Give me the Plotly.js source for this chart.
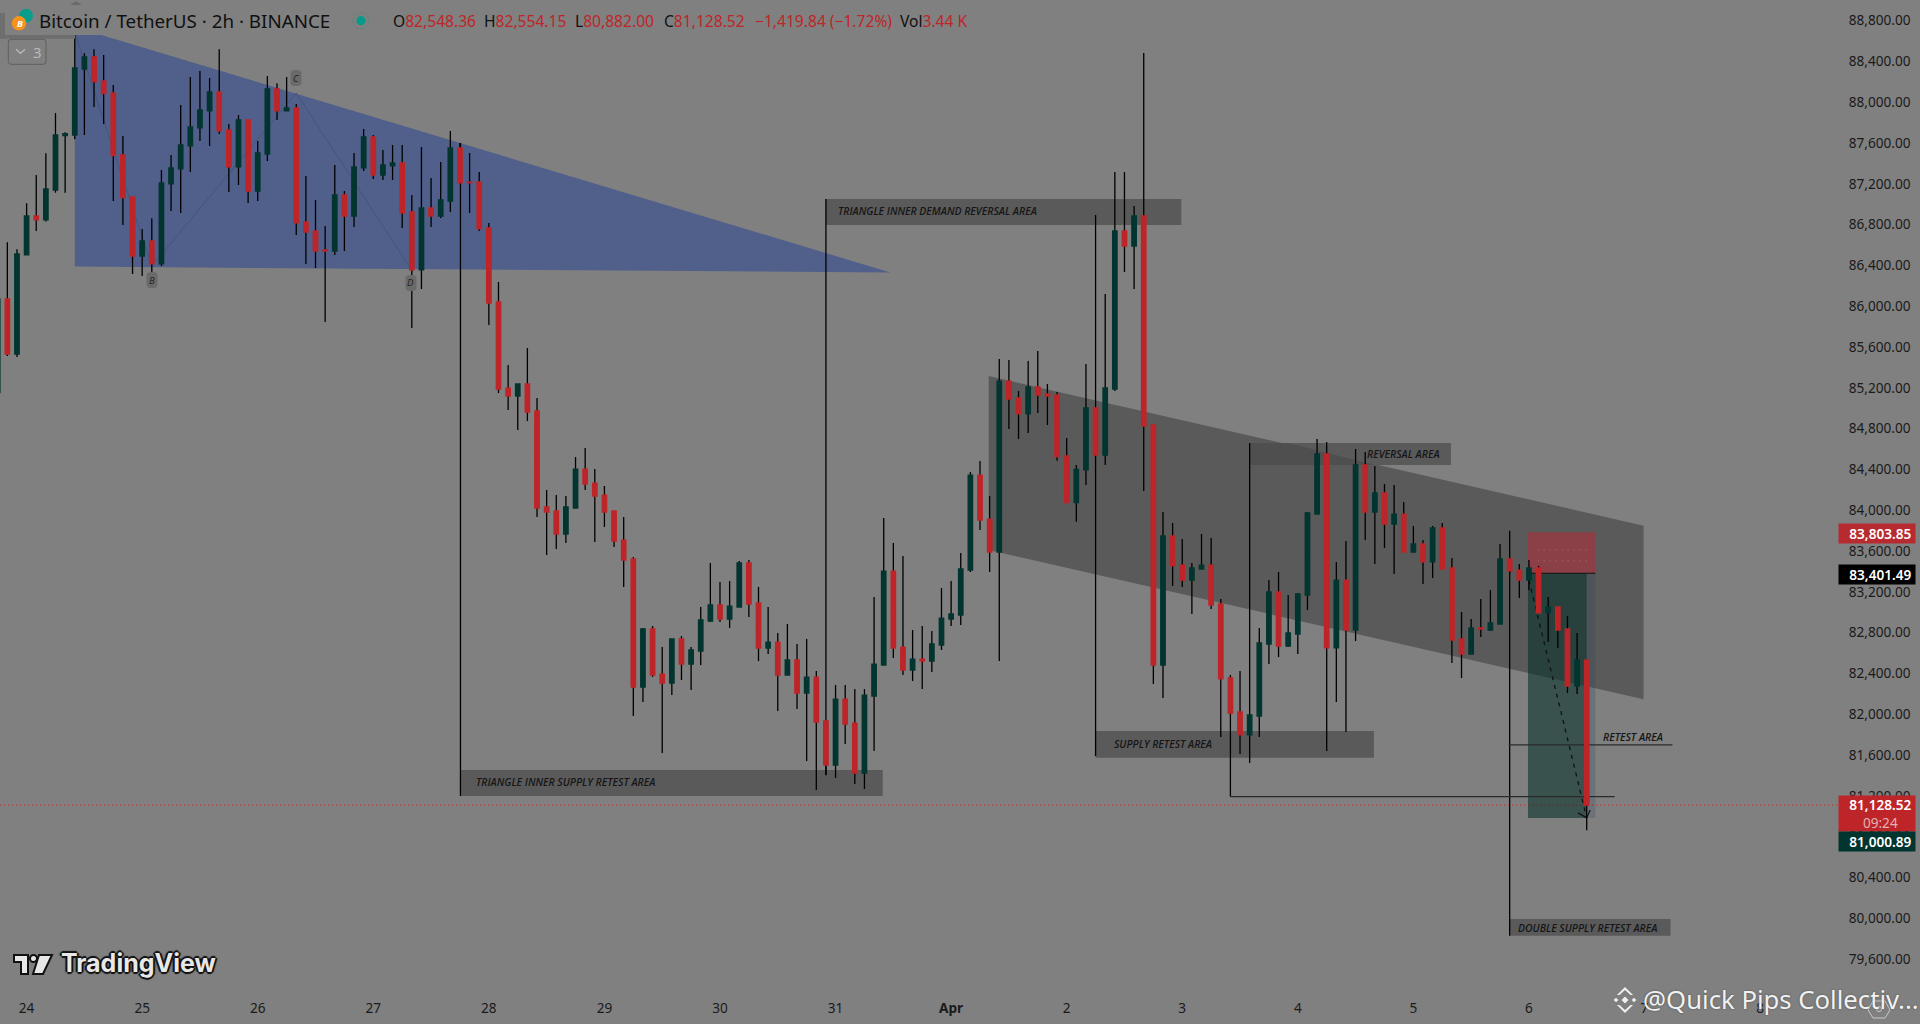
<!DOCTYPE html>
<html><head><meta charset="utf-8">
<script src="https://cdn.plot.ly/plotly-3.0.1.min.js"></script>
<style>html,body{margin:0;padding:0;background:#808080;overflow:hidden}#c{width:1920px;height:1024px}</style>
</head><body><div id="c"></div>
<script>
// ---- candle values, one per 2h bar, first bar 2025-03-23 18:00 UTC
const firstBar = Date.UTC(2025,2,23,18,0,0);
const barOpen = [85172,86091,85551,86522,86904,86865,87159,87692,87698,88345,88463,88228,88110,87502,87091,86512,86659,86434,87218,87365,87591,87767,87934,88120,87747,87385,87846,87149,87512,88149,87934,87963,86846,86757,86571,86561,87110,86904,87375,87679,87306,87395,87424,86944,86375,86983,86904,87051,87571,87238,87238,86787,86061,85217,85139,85257,84992,84051,84012,83786,84041,84423,84286,84168,84012,83727,83541,82286,82855,82413,82325,82757,82511,82639,82933,83090,82953,83070,83502,83110,82668,82727,82404,82551,82227,82384,81953,81521,82168,81933,81443,82198,82502,83423,82678,82453,82560,82541,82698,82953,82992,83433,84364,83933,83610,85286,85120,84963,85228,85159,85149,84551,84094,84414,85022,84561,85208,86757,86610,86904,84855,82502,83767,83482,83335,83443,83482,83100,82375,82041,81816,82002,82708,83218,82688,82806,83188,83982,84571,82669,83335,82845,84463,84002,84188,83884,83982,83610,83688,83512,83845,83453,82757,82610,82865,82845,82904,83541,83433,83335,83453,83012,83071,82855,82296,82548.36];
const barHigh = [86150,86646,86578,87029,87306,87519,87914,87725,88700,88499,88538,88483,88189,87689,87091,86777,86881,87355,87502,87993,88267,88326,88257,88538,87806,87895,87846,87640,88277,88205,88267,88002,87296,87061,86806,87404,87149,87522,87757,87698,87551,87600,87600,87110,87581,87277,87434,87738,87620,87522,87336,86836,86257,85443,85257,85610,85119,84217,84168,84159,84541,84629,84423,84257,84012,83953,83560,82864,82884,82678,82757,82786,82678,83070,83502,83315,83325,83521,83531,83266,83070,82815,82904,82708,82757,82443,81953,82306,82306,82266,82266,83168,83943,83698,83570,82845,82884,82835,83257,83325,83600,84394,84502,84158,85502,85492,85188,85482,85580,85257,85178,84727,84463,85453,85022,86139,87335,87335,87002,88502,84855,84002,83894,83737,83502,83786,83747,83149,82404,82443,82012,82865,83335,83414,83188,83208,84002,84718,84688,83512,83718,84620,84590,84453,84277,84267,84100,83865,83728,83865,83894,83551,83022,82953,83149,83237,83688,83541,83492,83532,83473,83169,83071,82983,82816,82554.15];
const barLow = [85172,85531,85521,86522,86757,86849,87133,87133,87656,87698,87973,87806,87051,86816,86336,86316,86326,86414,86953,86934,87336,87640,87591,87708,87140,87208,87032,87051,87444,87846,87934,86718,86434,86394,85865,86522,86561,86796,87345,87267,87257,87257,86787,85806,86189,86796,86885,86944,87228,86934,86757,85836,85168,85002,84806,84894,83953,83580,83639,83698,84041,84217,83708,83855,83659,83266,82002,82139,82384,81639,82207,82354,82257,82502,82923,82923,82864,83070,82972,82541,82609,82051,82404,82070,81560,81276,81423,81394,81727,81335,81286,81658,82502,82570,82404,82345,82266,82433,82649,82884,82894,83413,83825,83413,82541,84816,84718,84776,84973,84855,84505,84094,83907,84267,84561,84463,85188,86355,86188,84208,82316,82178,83277,83267,83002,83443,83051,81796,81212,81629,81816,81796,82512,82580,82679,82610,83041,83982,81659,82139,81845,82737,83728,83492,83649,83394,83610,83610,83296,83355,83443,82522,82375,82610,82776,82835,82904,83400,83159,83238,83012,82728,82669,82228,82218,80882];
const barClose = [86091,85551,86532,86904,86865,87169,87698,87712,88355,88463,88221,88104,87496,87084,86512,86659,86434,87228,87375,87600,87777,87944,88120,87738,87385,87846,87149,87522,88149,87934,87963,86836,86747,86561,86561,87110,86904,87385,87679,87306,87404,87424,86934,86375,86983,86904,87061,87571,87228,87228,86777,86051,85208,85139,85257,84982,84041,84002,83786,84051,84423,84276,84159,84002,83717,83531,82286,82855,82404,82325,82757,82511,82649,82943,83090,82953,83080,83502,83100,82668,82727,82404,82551,82227,82384,81943,81521,82168,81923,81443,82207,82511,83423,82668,82453,82560,82541,82708,82962,83002,83443,84364,83923,83610,85286,85110,84963,85228,85149,85139,84544,84094,84420,85022,84561,85218,86757,86610,86904,84845,82502,83767,83473,83335,83453,83482,83090,82365,82031,81816,82012,82718,83218,82688,82816,83198,83992,84571,82669,83335,82845,84463,84002,84188,83884,83982,83610,83688,83512,83845,83443,82747,82610,82865,82855,82914,83541,83424,83335,83453,83012,83071,82845,82296,82551,81128.52];

// ---- axes
const priceTicks = [79600,80000,80400,80800,81200,81600,82000,82400,82800,83200,83600,84000,84400,84800,85200,85600,86000,86400,86800,87200,87600,88000,88400,88800];
const dayTicks = ['2025-03-24','2025-03-25','2025-03-26','2025-03-27','2025-03-28','2025-03-29','2025-03-30','2025-03-31','2025-04-01','2025-04-02','2025-04-03','2025-04-04','2025-04-05','2025-04-06','2025-04-07','2025-04-08'];
const dayLabels = ['24','25','26','27','28','29','30','31','<b>Apr</b>','2','3','4','5','6','7','8'];

// ---- drawing tool anchors: bar number (0 = 2025-03-23 20:00) and price
const triangleBars = [7,7,91.7];
const trianglePrices = [88757,86408,86350];
const zigzagBars = [7,15,30,41.8];
const zigzagPrices = [88700,86414,88110,86400];
const channelBars = [101.9,169.9,169.9,101.9];
const channelPrices = [85335,83868,82166,83629];
const overlapBars = [129,133,142,129];
const overlapPrices = [84678,84678,84463,84463];
const zoneBarStart = [85,47.05,113,129,156];
const zoneBarEnd = [121.9,90.9,141.9,149.9,172.7];
const zoneTop = [87071,81473,81855,84678,80012];
const zoneBottom = [86816,81218,81593,84463,79848];
const stemBars = [85,47.05,113,129,156];
const stemTop = [87071,87620,86914,84678,83817];
const stemBottom = [81420,81218,81610,81540,79848];
const labelText = ['TRIANGLE INNER DEMAND REVERSAL AREA','TRIANGLE INNER SUPPLY RETEST AREA','SUPPLY RETEST AREA','REVERSAL AREA','RETEST AREA','DOUBLE SUPPLY RETEST AREA'];
const labelBars = [86.2,48.6,114.8,141.1,165.6,156.8];
const labelPrices = [86950,81352,81727,84574,81799,79926];
const pointText = ['B','C','D'];
const pointBars = [15,30,41.9];
const pointPrices = [86271,88256,86250];
const hLineBars = [[155.9,172.9],[127,166.9]];
const hLinePrices = [81718,81211];
const shortBarStart = 157.9, shortBarMid = 164, shortBarEnd = 164.9;
const stopPrice = 83803.85, entryPrice = 83401.49, targetPrice = 81000.89, lastPrice = 81128.52;
const arrowBars = [158,164]; const arrowPrices = [83335,81003];
const headerStats = [['O','82,548.36',392],['H','82,554.15',483.4],['L','80,882.00',574],['C','81,128.52',663]];

// ---- colours
const BG='#808080', RED='#BE2528', GREEN='#02352F', ZONE='#5A5A5A', INK='#161616';

// ---- helpers
const W=1920,H=1024,PW=1840,PH=995;
const yTop=89021.6,yBottom=79266.6;
const ms=k=>firstBar+(k+1)*7200000;
const dt=k=>new Date(ms(k)).toISOString().replace('T',' ').replace('Z','');
const dtp=k=>new Date(ms(k)).toISOString().replace('T','_').replace('Z','');
const times=barOpen.map((_,i)=>dt(i-1));
const px=x=>x/PW, py=y=>1-y/PH;
const P=(x,y)=>px(x)+','+py(y);
function poly(bars,prices,fill,line){return {type:'path',layer:'below',xref:'x',yref:'y',
  path:bars.map((b,i)=>(i?'L':'M')+dtp(b)+','+prices[i]).join(' ')+' Z',fillcolor:fill,line:line||{width:0}};}
function rect(b0,b1,p0,p1,fill){return {type:'rect',layer:'below',xref:'x',yref:'y',x0:dt(b0),x1:dt(b1),y0:p0,y1:p1,fillcolor:fill,line:{width:0}};}
function seg(b0,p0,b1,p1,color,width,dash){return {type:'line',layer:'below',xref:'x',yref:'y',x0:dt(b0),x1:dt(b1),y0:p0,y1:p1,line:{color:color,width:width,dash:dash||'solid'}};}
function pixPath(pts,fill,lineColor,lw){return {type:'path',layer:'above',xref:'paper',yref:'paper',
  path:pts.map((p,i)=>(i?'L':'M')+P(p[0],p[1])).join(' ')+' Z',fillcolor:fill,line:{color:lineColor||fill,width:lw===undefined?0:lw}};}
function pixCircle(cx,cy,r,fill,lineColor,lw,dash){return {type:'circle',layer:'above',xref:'paper',yref:'paper',x0:px(cx-r),x1:px(cx+r),y0:py(cy+r),y1:py(cy-r),fillcolor:fill,line:{color:lineColor||fill,width:lw||0,dash:dash||'solid'}};}
function pixRect(x0,y0,x1,y1,fill){return {type:'rect',layer:'above',xref:'paper',yref:'paper',x0:px(x0),x1:px(x1),y0:py(y1),y1:py(y0),fillcolor:fill,line:{width:0}};}
function pill(x0,y0,x1,y1,r,fill,lineColor,lw){
  const d='M'+P(x0+r,y0)+' L'+P(x1-r,y0)+' Q'+P(x1,y0)+' '+P(x1,y0+r)+' L'+P(x1,y1-r)+' Q'+P(x1,y1)+' '+P(x1-r,y1)+' L'+P(x0+r,y1)+' Q'+P(x0,y1)+' '+P(x0,y1-r)+' L'+P(x0,y0+r)+' Q'+P(x0,y0)+' '+P(x0+r,y0)+' Z';
  return {type:'path',layer:'above',xref:'paper',yref:'paper',path:d,fillcolor:fill,line:{color:lineColor||fill,width:lw||0}};}

const shapes=[];
shapes.push(poly(triangleBars,trianglePrices,'#51608A'));
for(let i=0;i<zigzagBars.length-1;i++) shapes.push(seg(zigzagBars[i],zigzagPrices[i],zigzagBars[i+1],zigzagPrices[i+1],'#46547C',1));
shapes.push(poly(channelBars,channelPrices,ZONE));
zoneBarStart.forEach((b,i)=>shapes.push(rect(b,zoneBarEnd[i],zoneBottom[i],zoneTop[i],ZONE)));
shapes.push(poly(overlapBars,overlapPrices,'#4F4F4F'));
shapes.push(rect(shortBarStart,shortBarEnd,entryPrice,stopPrice,'#8A4046'));
shapes.push(rect(shortBarStart,shortBarMid,targetPrice,entryPrice,'rgba(5,49,40,0.58)'));
shapes.push(rect(shortBarMid,shortBarEnd,targetPrice,entryPrice,'rgba(30,60,90,0.2)'));
shapes.push(seg(shortBarStart,entryPrice,shortBarEnd,entryPrice,'#111',1.2));
shapes.push(seg(158.9,83629,164.3,83629,'rgba(230,170,170,0.45)',1,'1px,5px'));
shapes.push(seg(158.9,83522,164.3,83522,'rgba(230,170,170,0.45)',1,'1px,5px'));
stemBars.forEach((b,i)=>shapes.push(seg(b,stemTop[i],b,stemBottom[i],'#000',1.3)));
hLineBars.forEach((b,i)=>shapes.push(seg(b[0],hLinePrices[i],b[1],hLinePrices[i],'#2a2a2a',1.2)));
shapes.push(seg(arrowBars[0],arrowPrices[0],arrowBars[1],arrowPrices[1],'#111',1.3,'4px,5px'));
shapes.push(seg(163.1,81052,164,81003,'#111',1.2));
shapes.push(seg(164.35,81081,164,81003,'#111',1.2));
shapes.push({type:'line',layer:'below',xref:'paper',yref:'y',x0:0,x1:1,y0:lastPrice,y1:lastPrice,line:{color:RED,width:1,dash:'1px,3px'}});

// chrome on top of the chart
shapes.push(pixRect(0,0,110,35,BG));
shapes.push(pixRect(0,35,75,38.7,'#6E6E6E'));
shapes.push(pixRect(0,13,5,38,'#6E6E6E'));
shapes.push(pixPath([[70,5],[82,5],[76,1]],'#6A6A6A'));
shapes.push(pixCircle(26,15.7,7,'#0B9C8C'));
shapes.push(pixCircle(19,23.3,7.2,'#F7931A'));
shapes.push(pixCircle(361,20.7,4.6,'#079A8B'));
shapes.push(pixCircle(361,20.7,8,'rgba(0,0,0,0)','#2C8C80',1,'1px,2px'));
// indicator folder button
shapes.push(pill(8.3,39.3,46,64.3,3,'rgba(0,0,0,0)','#5E5E5E',1));
shapes.push({type:'path',layer:'above',xref:'paper',yref:'paper',path:'M'+P(16,49.3)+' L'+P(20.5,53.3)+' L'+P(25,49.3),line:{color:'#B8B8B8',width:1.3}});
// drawing point badges
shapes.push(pill(146.5,272,157.5,288,4,'#6A6A6A'));
shapes.push(pill(290.5,70,301.5,86,4,'#6A6A6A'));
shapes.push(pill(405.5,275,416.5,291,4,'#6A6A6A'));
// TradingView mark
const mark={fill:'#E8E8E8',edge:'#111',lw:2};
shapes.push(pixPath([[14,955],[28,955],[28,974],[21,974],[21,962],[14,962]],mark.fill,mark.edge,mark.lw));
shapes.push(pixCircle(33.5,958.5,3.5,mark.fill,mark.edge,mark.lw));
shapes.push(pixPath([[39,955],[52,955],[43,974],[33,974]],mark.fill,mark.edge,mark.lw));
// exchange mark next to the credit
const cx=1625,cy=1000,dc='#EFEFEF';
[[0,0,3.5],[-9,0,2.3],[9,0,2.3]].forEach(d=>shapes.push(pixPath([[cx+d[0]-d[2],cy+d[1]],[cx+d[0],cy+d[1]-d[2]],[cx+d[0]+d[2],cy+d[1]],[cx+d[0],cy+d[1]+d[2]]],dc)));
shapes.push(pixPath([[cx,cy-13],[cx+8,cy-5],[cx+5.5,cy-5],[cx,cy-10],[cx-5.5,cy-5],[cx-8,cy-5]],dc));
shapes.push(pixPath([[cx,cy+13],[cx+8,cy+5],[cx+5.5,cy+5],[cx,cy+10],[cx-5.5,cy+5],[cx-8,cy+5]],dc));
shapes.push(pixPath([[1873,1001],[1885,1001],[1890,1010],[1885,1018],[1873,1018],[1868,1010]],'rgba(0,0,0,0)','#C8C8C8',1));
shapes.push(pixCircle(1879,1009,2.5,'rgba(0,0,0,0)','#C8C8C8',1));

const areaFont={family:'"Open Sans",sans-serif',size:10.4,color:'#161616',style:'italic',weight:600};
const ann=[];
labelText.forEach((t,i)=>ann.push({xref:'x',yref:'y',x:dt(labelBars[i]),y:labelPrices[i],text:t,showarrow:false,xanchor:'left',yanchor:'middle',font:areaFont,borderpad:0}));
pointText.forEach((t,i)=>ann.push({xref:'x',yref:'y',x:dt(pointBars[i]),y:pointPrices[i],text:t,showarrow:false,xanchor:'center',yanchor:'middle',borderpad:0,font:{family:'"Open Sans",sans-serif',size:9.5,color:'#222',style:'italic'}}));
const hdr=(t,x,y,f,extra)=>Object.assign({xref:'paper',yref:'paper',x:px(x),y:py(y),text:t,showarrow:false,xanchor:'left',yanchor:'middle',align:'left',borderpad:0,font:f},extra||{});
const headFont={family:'"Noto Sans",sans-serif',size:18.8,color:'#111'};
const statFont={family:'"Noto Sans",sans-serif',size:15.6,color:RED};
const span=(s,c)=>'<span style="color:'+c+'">'+s+'</span>';
ann.push(hdr('Bitcoin / TetherUS · 2h · BINANCE',38,21,headFont));
headerStats.forEach(s=>ann.push(hdr(span(s[0],'#111')+s[1],s[2],21,statFont)));
ann.push(hdr('−1,419.84 (−1.72%)',754,21,statFont));
ann.push(hdr(span('Vol','#111')+'3.44 K',899,21,statFont));
ann.push(hdr('3',32,51.7,{family:'"Noto Sans",sans-serif',size:15,color:'#B8B8B8'}));
ann.push(hdr('<b><i>B</i></b>',16,23.8,{family:'"Open Sans",sans-serif',size:9.5,color:'#FFF'}));
ann.push(hdr('TradingView',60,963,{family:'Inter,sans-serif',size:25,weight:700,color:'#E8E8E8',shadow:'1px 0 0 #111,-1px 0 0 #111,0 1px 0 #111,0 -1px 0 #111,1px 1px 1px #111,-1px -1px 1px #111,2px 0 1px #111,-2px 0 1px #111,0 2px 1px #111,0 -2px 1px #111'}));
ann.push(hdr('@Quick Pips Collectiv...',1642,1000,{family:'"Noto Sans",sans-serif',size:25.7,color:'#F2F2F2',shadow:'0 0 2px rgba(60,60,60,.8)'}));
const tag=(t,price,shift,bg,h)=>({xref:'paper',yref:'y',x:px(1877),y:price,yshift:shift,text:t,showarrow:false,xanchor:'center',yanchor:'middle',width:76,height:h||18.6,bgcolor:bg,borderpad:0,align:'center',font:{family:'"Noto Sans",sans-serif',size:13.6,weight:600,color:'#FFF'}});
const money=v=>'\u2002'+v.toLocaleString('en-US',{minimumFractionDigits:2});
ann.push(tag(money(stopPrice),stopPrice,-1,'#B72B30'));
ann.push(tag(money(entryPrice),entryPrice,-1,'#000'));
ann.push(tag(money(lastPrice)+'<br>\u2002<span style="color:#E0B4B4;font-weight:400">09:24</span>',lastPrice,-8,RED,34.7));
ann.push(tag(money(targetPrice),targetPrice,-23,GREEN));

const wicks={type:'candlestick',x:times,open:barOpen.map((o,i)=>(o+barClose[i])/2),close:barOpen.map((o,i)=>(o+barClose[i])/2),high:barHigh,low:barLow,whiskerwidth:0,hoverinfo:'skip',showlegend:false,
  increasing:{line:{color:'#000',width:1.3},fillcolor:'#000'},decreasing:{line:{color:'#000',width:1.3},fillcolor:'#000'}};
const bodies={type:'candlestick',x:times,open:barOpen,close:barClose,
  high:barOpen.map((o,i)=>Math.max(o,barClose[i])),low:barOpen.map((o,i)=>Math.min(o,barClose[i])),whiskerwidth:0,hoverinfo:'skip',showlegend:false,
  increasing:{line:{color:GREEN,width:1.3},fillcolor:GREEN},decreasing:{line:{color:RED,width:1.3},fillcolor:RED}};

const axisFont={family:'"Noto Sans",sans-serif',size:13.6,color:'#1A1A1A'};
Plotly.newPlot('c',[wicks,bodies],{
  width:W,height:H,autosize:false,paper_bgcolor:BG,plot_bgcolor:BG,showlegend:false,
  margin:{l:0,r:W-PW,t:0,b:H-PH,pad:0},boxgap:0.34,boxmode:'overlay',dragmode:false,
  xaxis:{type:'date',range:[dt(-0.763),dt(190.3)],showgrid:false,zeroline:false,showline:false,
    rangeslider:{visible:false},tickmode:'array',tickvals:dayTicks,ticktext:dayLabels,ticks:'outside',ticklen:1,tickcolor:BG,tickfont:axisFont,tickangle:0},
  yaxis:{side:'right',range:[yBottom,yTop],showgrid:false,zeroline:false,showline:false,tickmode:'array',tickvals:priceTicks,
    tickformat:',.2f',ticks:'outside',ticklen:5,tickcolor:BG,tickfont:axisFont,ticklabelshift:-2},
  shapes:shapes,annotations:ann
},{staticPlot:true,displayModeBar:false});
</script></body></html>
